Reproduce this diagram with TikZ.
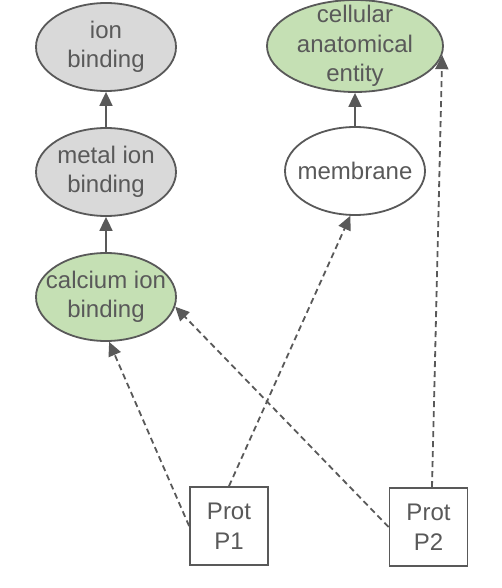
\documentclass[tikz,border=0pt]{standalone}
\usepackage{fontspec}
\setmainfont{Liberation Sans}
\usetikzlibrary{shapes.geometric,arrows.meta}
\definecolor{ln}{HTML}{595959}
\definecolor{gfill}{HTML}{D9D9D9}
\definecolor{gr}{HTML}{C5E0B4}
\tikzset{
  lbl/.style={text=ln,align=center,inner sep=0pt,font=\fontsize{24}{29.5}\selectfont},
  term/.style={ellipse,draw=ln,line width=1.8pt,inner sep=0pt,
    minimum width=140pt,minimum height=88pt,label={[lbl]center:#1}},
  prot/.style={rectangle,draw=ln,line width=1.8pt,text=ln,align=center,inner sep=0pt,
    minimum width=78pt,minimum height=78pt,font=\fontsize{24}{29.5}\selectfont},
  isa/.style={draw=ln,line width=1.8pt,-{Triangle[length=14pt,width=13pt]}},
  ann/.style={draw=ln,line width=1.8pt,dash pattern=on 6pt off 4pt,-{Triangle[length=14pt,width=13pt]}}
}
\begin{document}
\begin{tikzpicture}[x=1pt,y=-1pt]
\useasboundingbox[fill=white] (0,0) rectangle (502,588);
\node[term={ion\\binding},fill=gfill] (ion) at (106,47) {};
\node[term={metal ion\\binding},fill=gfill] (met) at (106,172) {};
\node[term={calcium ion\\binding},fill=gr] (cal) at (106,297) {};
\node[term={cellular\\anatomical\\entity},fill=gr,minimum width=176pt,minimum height=92pt] (cae) at (355,46) {};
\node[term={membrane},fill=white] (mem) at (355,171) {};
\node[prot] (p1) at (229,526) {Prot\\P1};
\node[prot] (p2) at (428.5,527) {Prot\\P2};
\draw[isa] (met) -- (ion);
\draw[isa] (cal) -- (met);
\draw[isa] (mem) -- (cae);
\draw[ann] (p1.west) -- (cal.-86);
\draw[ann] (p1.north) -- (mem.-96);
\draw[ann] (p2.west) -- (cal.-8);
\draw[ann] ([xshift=3.5pt]p2.north) -- (cae.-6);
\end{tikzpicture}
\end{document}
